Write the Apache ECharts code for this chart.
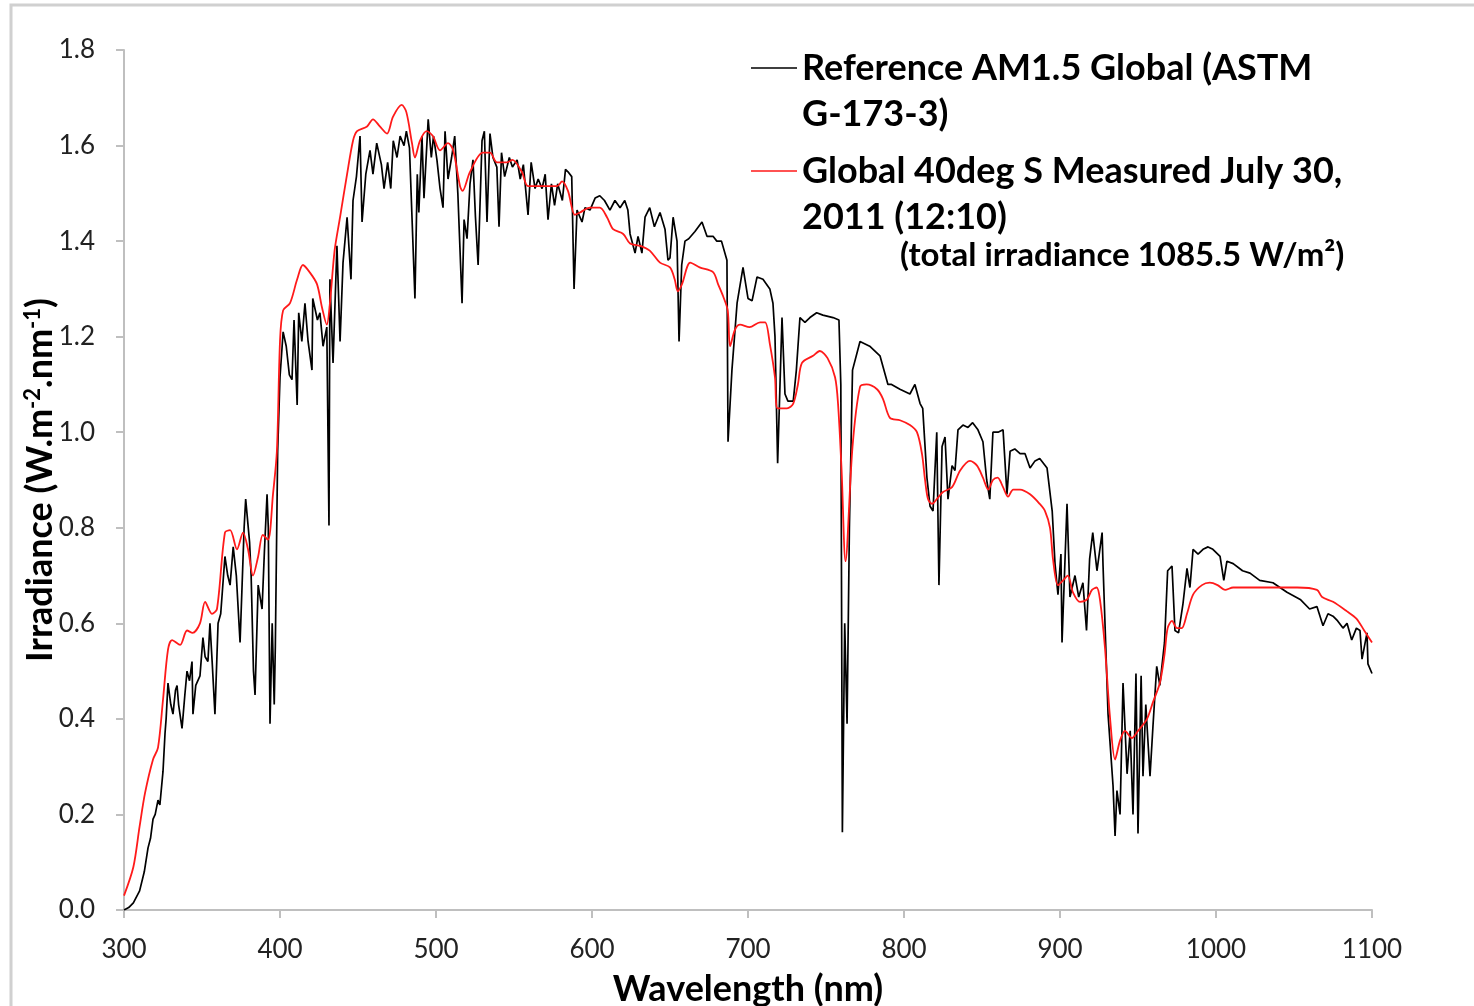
<!DOCTYPE html>
<html>
<head>
<meta charset="utf-8">
<title>Solar spectral irradiance</title>
<script src="https://cdn.jsdelivr.net/npm/echarts@6/dist/echarts.min.js"></script>
<style>
  html, body { margin: 0; padding: 0; background: #fff; }
  #chart { width: 1474px; height: 1006px; }
</style>
</head>
<body>
<div id="chart"></div>
<script>
// Axis ticks
const xTicks = { min: 300, max: 1100, step: 100 };
const yTicks = { min: 0, max: 1.8, step: 0.2 };

// Reference AM1.5 Global spectrum (ASTM G-173-3): wavelength (nm) / irradiance (W m-2 nm-1)
const refNm = [
  300, 303, 306, 310, 313, 315.4, 317, 318.6, 320, 321.8, 323, 325, 326.3, 327, 328.2, 330, 331.4, 333, 334, 335,
  337.2, 339, 340.4, 342, 343.6, 344.2, 346, 348.7, 350.6, 352, 353.8, 355.1, 356.5, 358.3, 360.3, 362, 364.7, 366.5, 368, 370,
  372, 374.4, 377, 378, 380.5, 381.5, 383, 384, 386, 388.5, 390, 391.7, 392.5, 393.6, 395, 396.3, 397, 398.5, 400, 402,
  404, 406, 407.7, 409, 411, 412, 414, 416, 418, 420.5, 421, 424, 425.6, 427.6, 430, 431.4, 432, 434, 436.5, 438.5,
  440.4, 443, 445.5, 446.8, 449, 451.3, 452.6, 455, 457.7, 459.6, 462, 465, 466.7, 469, 471, 472.6, 475, 477, 479.5, 481,
  483, 486.5, 488, 489, 491, 492.3, 495, 497, 498.4, 500.6, 502.6, 504.5, 505.8, 507.7, 510, 512, 514, 516.7, 518, 519.9,
  521.8, 523.7, 525.3, 527, 529.5, 531, 532.7, 534.6, 536.5, 539, 540.4, 542, 544, 547, 549, 552, 554, 556, 559, 561,
  563.5, 565.5, 568, 570, 571.8, 574, 576, 578, 581, 583, 584.6, 587, 588.5, 590.4, 593.6, 595.5, 598.7, 602, 605, 608,
  611.5, 614.7, 618, 621, 623, 624.4, 627.6, 629.5, 632, 634, 637, 640, 643.6, 646.8, 648.7, 650, 652, 654.5, 655.8, 657.5,
  659.6, 662, 666, 670.5, 673.7, 677.6, 680, 683, 686.5, 687.2, 689.7, 693, 696.8, 700, 702.6, 705.8, 709.6, 714, 716, 717.3,
  719, 721.8, 723.7, 725.6, 729, 731, 733.3, 736.5, 739.7, 744, 748, 754.5, 758.3, 759.5, 760.5, 762, 763.5, 765, 767, 771.8,
  778, 784.6, 789.7, 792, 797.4, 803.8, 807, 810.3, 812, 814.7, 816.7, 818.6, 821, 822.4, 824.4, 826.3, 828.2, 830.8, 832.7, 834.6,
  837.8, 841, 844, 847.4, 850.6, 853, 855, 857, 860.3, 863.5, 866, 868, 871, 874.4, 877.6, 880.8, 884, 887, 891.7, 895,
  896.8, 898.7, 900.6, 901.3, 904.5, 906.4, 909.6, 912, 914.7, 917, 919, 921, 923.7, 927, 927.6, 930.8, 934, 935.3, 936.5, 938.5,
  940.4, 943, 945, 946.8, 948.7, 950, 952, 953.2, 955, 957.7, 959.6, 962, 964, 967, 969, 971.8, 973.7, 976, 978.8, 981.4,
  983.3, 985.3, 988.5, 991.7, 994.9, 998, 1002.6, 1005, 1007, 1011, 1017, 1021.8, 1028, 1036.5, 1045.5, 1054, 1060, 1064.7, 1068.6, 1071.8,
  1075, 1078, 1081.4, 1084, 1087, 1090, 1092.3, 1093.6, 1096.8, 1097.4, 1100
];
const refVal = [
  0, 0.005, 0.015, 0.04, 0.08, 0.13, 0.15, 0.19, 0.2, 0.23, 0.22, 0.29, 0.37, 0.40, 0.475, 0.43, 0.41, 0.46, 0.47, 0.43,
  0.38, 0.45, 0.50, 0.48, 0.52, 0.41, 0.47, 0.49, 0.57, 0.53, 0.52, 0.60, 0.52, 0.41, 0.60, 0.62, 0.74, 0.70, 0.68, 0.76,
  0.70, 0.56, 0.80, 0.86, 0.77, 0.70, 0.50, 0.45, 0.68, 0.63, 0.75, 0.87, 0.80, 0.39, 0.60, 0.43, 0.55, 0.96, 1.115, 1.21,
  1.18, 1.12, 1.11, 1.235, 1.057, 1.25, 1.19, 1.27, 1.19, 1.13, 1.28, 1.235, 1.25, 1.18, 1.22, 0.805, 1.32, 1.145, 1.39, 1.19,
  1.355, 1.45, 1.32, 1.485, 1.535, 1.62, 1.44, 1.54, 1.59, 1.54, 1.605, 1.56, 1.51, 1.565, 1.51, 1.61, 1.575, 1.62, 1.60, 1.63,
  1.595, 1.28, 1.54, 1.46, 1.62, 1.49, 1.655, 1.575, 1.62, 1.57, 1.51, 1.47, 1.63, 1.53, 1.575, 1.62, 1.50, 1.27, 1.445, 1.405,
  1.52, 1.57, 1.45, 1.35, 1.61, 1.63, 1.44, 1.625, 1.575, 1.555, 1.43, 1.585, 1.535, 1.575, 1.555, 1.57, 1.53, 1.56, 1.455, 1.565,
  1.51, 1.53, 1.51, 1.54, 1.445, 1.52, 1.475, 1.52, 1.485, 1.55, 1.545, 1.535, 1.30, 1.465, 1.44, 1.47, 1.465, 1.49, 1.495, 1.485,
  1.465, 1.485, 1.47, 1.485, 1.465, 1.415, 1.375, 1.41, 1.375, 1.45, 1.47, 1.43, 1.46, 1.425, 1.36, 1.365, 1.45, 1.40, 1.19, 1.35,
  1.40, 1.405, 1.42, 1.44, 1.41, 1.41, 1.40, 1.40, 1.36, 0.98, 1.13, 1.27, 1.345, 1.28, 1.275, 1.325, 1.32, 1.30, 1.27, 1.20,
  0.935, 1.24, 1.08, 1.065, 1.065, 1.13, 1.24, 1.23, 1.24, 1.25, 1.245, 1.24, 1.235, 1.10, 0.163, 0.60, 0.39, 0.80, 1.13, 1.19,
  1.18, 1.16, 1.10, 1.10, 1.09, 1.08, 1.10, 1.06, 1.05, 0.905, 0.845, 0.835, 1.00, 0.68, 0.97, 0.99, 0.86, 0.93, 0.92, 1.005,
  1.015, 1.01, 1.02, 1.005, 0.98, 0.90, 0.86, 1.00, 1.00, 1.005, 0.87, 0.96, 0.965, 0.955, 0.955, 0.925, 0.94, 0.945, 0.925, 0.835,
  0.725, 0.66, 0.745, 0.56, 0.85, 0.655, 0.70, 0.655, 0.685, 0.585, 0.735, 0.79, 0.71, 0.79, 0.72, 0.41, 0.26, 0.155, 0.25, 0.20,
  0.475, 0.285, 0.375, 0.20, 0.495, 0.16, 0.49, 0.28, 0.43, 0.28, 0.385, 0.51, 0.47, 0.56, 0.71, 0.72, 0.585, 0.58, 0.64, 0.715,
  0.675, 0.755, 0.745, 0.755, 0.76, 0.755, 0.74, 0.69, 0.73, 0.725, 0.71, 0.705, 0.69, 0.685, 0.665, 0.65, 0.63, 0.635, 0.595, 0.62,
  0.615, 0.605, 0.59, 0.60, 0.565, 0.59, 0.585, 0.525, 0.58, 0.515, 0.495
];

// Measured global irradiance, 40 deg tilt facing south
const measNm = [
  300, 306, 310, 313.5, 318.6, 321.8, 325, 328.2, 330.8, 336, 340.4, 344, 348.7, 352, 356.4, 359.6, 364.7, 368, 372.4, 376.3,
  379.5, 382.7, 386, 389, 392.3, 395.5, 398, 400, 402, 406.4, 411, 414.7, 419, 423.7, 427, 430, 432, 435, 438.5, 443,
  446.8, 449.4, 455.8, 459.6, 464, 468.6, 472.4, 478, 481, 484.6, 486.5, 489.7, 494, 498, 502.6, 507.7, 511, 515.4, 517, 521.8,
  530, 534.6, 539, 545.5, 549, 555, 559, 566.7, 577.6, 580.8, 584.6, 589, 592.3, 598.7, 605, 609.6, 613.5, 620, 624.4, 631,
  637, 643.6, 650, 653, 655, 657.7, 663, 669, 677.6, 680.8, 684, 687, 688.5, 691.7, 694.9, 701, 707.7, 711, 714, 717.3,
  719, 725, 729, 732, 734.6, 741.7, 746, 751, 755.8, 757.7, 760, 762.5, 767, 771.8, 776, 782.7, 786.5, 791, 797.4, 803.8,
  808.3, 811.5, 813.5, 815.4, 818, 821, 825, 830.8, 836, 842.3, 846.8, 850.6, 854, 857, 860, 863.5, 866.7, 870, 874.4, 880.8,
  887, 890.4, 893.6, 895.5, 898.7, 902, 905, 908.3, 912.8, 917.3, 920.5, 923.5, 925.6, 928.8, 932, 935.3, 938.5, 941.7, 946, 950,
  955.8, 959.6, 964, 967, 969, 971.8, 975, 978, 981.4, 985.3, 991, 996, 1001, 1005.8, 1011, 1023.7, 1036.5, 1052, 1064.7, 1068,
  1075, 1084, 1090, 1095, 1100
];
const measVal = [
  0.03, 0.09, 0.175, 0.245, 0.315, 0.34, 0.44, 0.545, 0.565, 0.555, 0.585, 0.58, 0.60, 0.645, 0.62, 0.63, 0.79, 0.795, 0.755, 0.79,
  0.755, 0.70, 0.74, 0.785, 0.775, 0.87, 0.96, 1.19, 1.255, 1.27, 1.32, 1.35, 1.335, 1.31, 1.26, 1.225, 1.27, 1.38, 1.45, 1.54,
  1.61, 1.63, 1.64, 1.655, 1.64, 1.625, 1.66, 1.685, 1.67, 1.605, 1.575, 1.61, 1.63, 1.62, 1.59, 1.605, 1.59, 1.515, 1.505, 1.545,
  1.585, 1.585, 1.565, 1.565, 1.57, 1.545, 1.515, 1.515, 1.515, 1.525, 1.505, 1.455, 1.46, 1.47, 1.47, 1.45, 1.425, 1.415, 1.395, 1.39,
  1.38, 1.355, 1.345, 1.32, 1.295, 1.31, 1.355, 1.345, 1.335, 1.31, 1.285, 1.255, 1.18, 1.215, 1.225, 1.22, 1.23, 1.23, 1.185, 1.115,
  1.05, 1.05, 1.06, 1.10, 1.145, 1.16, 1.17, 1.155, 1.115, 1.06, 0.92, 0.73, 0.97, 1.095, 1.10, 1.09, 1.07, 1.03, 1.025, 1.015,
  1.00, 0.955, 0.90, 0.86, 0.85, 0.86, 0.875, 0.885, 0.92, 0.94, 0.93, 0.905, 0.88, 0.90, 0.905, 0.885, 0.865, 0.88, 0.88, 0.87,
  0.85, 0.835, 0.80, 0.735, 0.68, 0.69, 0.70, 0.665, 0.645, 0.65, 0.67, 0.675, 0.65, 0.55, 0.405, 0.315, 0.355, 0.375, 0.36, 0.375,
  0.40, 0.435, 0.475, 0.535, 0.59, 0.605, 0.59, 0.59, 0.62, 0.66, 0.68, 0.685, 0.68, 0.67, 0.675, 0.675, 0.675, 0.675, 0.67, 0.655,
  0.645, 0.625, 0.61, 0.585, 0.56
];

const seriesNames = [
  'Reference AM1.5 Global (ASTM G-173-3)',
  'Global 40deg S Measured July 30, 2011 (12:10)'
];
const legendLines = {
  'Reference AM1.5 Global (ASTM G-173-3)': 'Reference AM1.5 Global (ASTM\nG-173-3)',
  'Global 40deg S Measured July 30, 2011 (12:10)': 'Global 40deg S Measured July 30,\n2011 (12:10)'
};
const totalNote = '(total irradiance 1085.5 W/m²)';

const pairs = (xs, ys) => xs.map((x, i) => [x, ys[i]]);

const FONT = 'Lato, "Open Sans", sans-serif';
const AXIS_GREY = '#bfbfbf';

// Legend swatch: a short horizontal bar level with the first text line
const LEGEND_W = 46, LEGEND_H = 92;
const swatch = 'path://M0,0L0.01,0L0,0.01Z M0,' + LEGEND_H + 'L0.01,' + LEGEND_H + 'L0,' + (LEGEND_H - 0.01) + 'Z ' +
  'M0,22.2H' + LEGEND_W + 'V23.8H0Z';

const chart = echarts.init(document.getElementById('chart'), null, { renderer: 'canvas' });

chart.setOption({
  animation: false,
  backgroundColor: '#ffffff',
  grid: { left: 124, right: 102, top: 50, bottom: 96, containLabel: false, outerBoundsMode: 'none' },
  legend: {
    data: seriesNames,
    orient: 'vertical',
    left: 751,
    top: 45,
    padding: 0,
    itemWidth: LEGEND_W,
    itemHeight: LEGEND_H,
    itemGap: 11,
    icon: swatch,
    itemStyle: { borderWidth: 0 },
    selectedMode: false,
    formatter: name => legendLines[name],
    textStyle: { fontFamily: FONT, fontSize: 36, fontWeight: 'bold', color: '#000', lineHeight: 46 }
  },
  graphic: [
    {
      type: 'rect',
      silent: true,
      shape: { x: 11, y: 5, width: 1500, height: 1040 },
      style: { fill: 'none', stroke: '#d0d0d0', lineWidth: 3 }
    },
    {
      type: 'text',
      left: 900,
      top: 239,
      style: { text: totalNote, font: 'bold 33px ' + FONT, fill: '#000' }
    }
  ],
  xAxis: {
    type: 'value',
    min: xTicks.min,
    max: xTicks.max,
    interval: xTicks.step,
    name: 'Wavelength (nm)',
    nameLocation: 'middle',
    nameGap: 61,
    nameMoveOverlap: false,
    nameTextStyle: { fontFamily: FONT, fontSize: 36, fontWeight: 'bold', color: '#000' },
    axisLine: { show: true, onZero: false, lineStyle: { color: AXIS_GREY, width: 2 } },
    axisTick: { show: true, length: 8, lineStyle: { color: AXIS_GREY, width: 2 } },
    axisLabel: { margin: 27, fontFamily: FONT, fontSize: 26, color: '#222', formatter: v => String(v) },
    splitLine: { show: false }
  },
  yAxis: {
    type: 'value',
    min: yTicks.min,
    max: yTicks.max,
    interval: yTicks.step,
    name: 'Irradiance (W.m{sup|-2}.nm{sup|-1})',
    nameLocation: 'middle',
    nameGap: 66,
    nameMoveOverlap: false,
    nameTextStyle: {
      fontFamily: FONT, fontSize: 36, fontWeight: 'bold', color: '#000',
      rich: { sup: { fontFamily: FONT, fontSize: 22, fontWeight: 'bold', color: '#000', verticalAlign: 'top' } }
    },
    axisLine: { show: true, lineStyle: { color: AXIS_GREY, width: 2 } },
    axisTick: { show: true, length: 8, lineStyle: { color: AXIS_GREY, width: 2 } },
    axisLabel: { margin: 29, fontFamily: FONT, fontSize: 26, color: '#222', formatter: v => v.toFixed(1) },
    splitLine: { show: false }
  },
  series: [
    {
      name: seriesNames[0],
      type: 'line',
      data: pairs(refNm, refVal),
      showSymbol: false,
      symbol: 'none',
      color: '#000000',
      lineStyle: { color: '#000000', width: 1.7 },
      z: 2
    },
    {
      name: seriesNames[1],
      type: 'line',
      data: pairs(measNm, measVal),
      showSymbol: false,
      symbol: 'none',
      smooth: 0.3,
      color: '#ff1a1a',
      lineStyle: { color: '#ff1a1a', width: 1.8 },
      z: 3
    }
  ]
});
</script>
</body>
</html>
